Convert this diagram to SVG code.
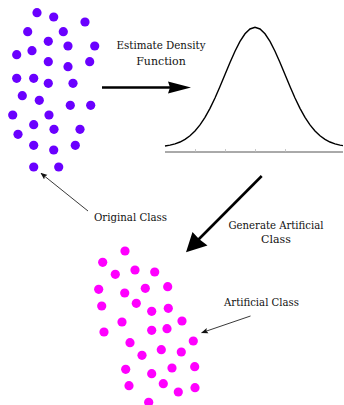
<svg xmlns="http://www.w3.org/2000/svg" width="344" height="405" viewBox="0 0 344 405">
<defs>
<style>
.p{fill:#6a00ff}
.m{fill:#ff00ff}
text{font-family:'DejaVu Serif','Liberation Serif',serif;font-size:11px;fill:#111}
.thin{stroke:#222;stroke-width:0.9;fill:none}
</style>
<marker id="sa" viewBox="0 0 10 10" refX="9" refY="5" markerWidth="7" markerHeight="7" markerUnits="userSpaceOnUse" orient="auto">
<path d="M0,1 L10,5 L0,9 L2,5 Z" fill="#111"/>
</marker>
</defs>
<rect width="344" height="405" fill="#fff"/>
<g id="original-class">
<circle class="p" cx="37" cy="12.7" r="4.6"/><circle class="p" cx="53.7" cy="17" r="4.6"/><circle class="p" cx="85" cy="22" r="4.6"/>
<circle class="p" cx="27.7" cy="31.7" r="4.6"/><circle class="p" cx="63.3" cy="31.7" r="4.6"/><circle class="p" cx="48.3" cy="41.3" r="4.6"/>
<circle class="p" cx="68" cy="46" r="4.6"/><circle class="p" cx="94.7" cy="46" r="4.6"/><circle class="p" cx="16.7" cy="54.7" r="4.6"/>
<circle class="p" cx="32" cy="50.7" r="4.6"/><circle class="p" cx="48.3" cy="61.7" r="4.6"/><circle class="p" cx="68" cy="66.7" r="4.6"/>
<circle class="p" cx="89.7" cy="61.7" r="4.6"/><circle class="p" cx="16.7" cy="78.3" r="4.6"/><circle class="p" cx="33.7" cy="78.3" r="4.6"/>
<circle class="p" cx="48.3" cy="83.3" r="4.6"/><circle class="p" cx="73" cy="83.3" r="4.6"/><circle class="p" cx="22.3" cy="95.7" r="4.6"/>
<circle class="p" cx="39.3" cy="100.3" r="4.6"/><circle class="p" cx="70.3" cy="105.3" r="4.6"/><circle class="p" cx="90.7" cy="105.3" r="4.6"/>
<circle class="p" cx="12.7" cy="115" r="4.6"/><circle class="p" cx="49" cy="115" r="4.6"/><circle class="p" cx="33.7" cy="124.7" r="4.6"/>
<circle class="p" cx="54" cy="129.3" r="4.6"/><circle class="p" cx="80" cy="129.3" r="4.6"/><circle class="p" cx="18" cy="134.3" r="4.6"/>
<circle class="p" cx="33.7" cy="145.3" r="4.6"/><circle class="p" cx="53.7" cy="150" r="4.6"/><circle class="p" cx="75.3" cy="145.3" r="4.6"/>
<circle class="p" cx="33.7" cy="167" r="4.6"/><circle class="p" cx="58.7" cy="167" r="4.6"/>
</g>
<g id="artificial-class">
<circle class="m" cx="125" cy="251" r="4.6"/><circle class="m" cx="102.7" cy="262.3" r="4.6"/><circle class="m" cx="115.3" cy="274.3" r="4.6"/>
<circle class="m" cx="135" cy="270" r="4.6"/><circle class="m" cx="154.7" cy="272" r="4.6"/><circle class="m" cx="98.7" cy="289.3" r="4.6"/>
<circle class="m" cx="124.7" cy="293" r="4.6"/><circle class="m" cx="145.3" cy="288.3" r="4.6"/><circle class="m" cx="167.7" cy="286.7" r="4.6"/>
<circle class="m" cx="101.7" cy="306" r="4.6"/><circle class="m" cx="136.3" cy="303.3" r="4.6"/><circle class="m" cx="151.7" cy="311.3" r="4.6"/>
<circle class="m" cx="168.3" cy="308.3" r="4.6"/><circle class="m" cx="122" cy="322" r="4.6"/><circle class="m" cx="182" cy="321" r="4.6"/>
<circle class="m" cx="104" cy="332" r="4.6"/><circle class="m" cx="151.7" cy="330.3" r="4.6"/><circle class="m" cx="167" cy="328.7" r="4.6"/>
<circle class="m" cx="193.3" cy="341" r="4.6"/><circle class="m" cx="130" cy="342.7" r="4.6"/><circle class="m" cx="161.3" cy="349.7" r="4.6"/>
<circle class="m" cx="181.3" cy="352" r="4.6"/><circle class="m" cx="142" cy="355.3" r="4.6"/><circle class="m" cx="125.7" cy="369.3" r="4.6"/>
<circle class="m" cx="151.7" cy="373.7" r="4.6"/><circle class="m" cx="172" cy="368" r="4.6"/><circle class="m" cx="194.7" cy="366.7" r="4.6"/>
<circle class="m" cx="129" cy="385.7" r="4.6"/><circle class="m" cx="163.3" cy="383.7" r="4.6"/><circle class="m" cx="178.3" cy="392" r="4.6"/>
<circle class="m" cx="195" cy="387.7" r="4.6"/><circle class="m" cx="148.7" cy="402.3" r="4.6"/>
</g>
<g id="density-function">
<line x1="165" y1="152" x2="343" y2="152" stroke="#555" stroke-width="1"/>
<g stroke="#bbb" stroke-width="0.8">
<line x1="195.5" y1="149" x2="195.5" y2="152"/><line x1="225.5" y1="149" x2="225.5" y2="152"/>
<line x1="255.5" y1="149" x2="255.5" y2="152"/><line x1="285.5" y1="149" x2="285.5" y2="152"/>
</g>
<polyline fill="none" stroke="#000" stroke-width="1.4" points="165,145.97 170,145.13 175,143.87 180,142.03 185,139.41 190,135.83 195,131.06 200,124.94 205,117.37 210,108.34 215,97.97 220,86.54 225,74.52 230,62.51 235,51.22 240,41.4 245,33.78 250,28.97 255,27.3 260,28.97 265,33.78 270,41.4 275,51.22 280,62.51 285,74.52 290,86.54 295,97.97 300,108.34 305,117.37 310,124.94 315,131.06 320,135.83 325,139.41 330,142.03 335,143.87 340,145.13 343,145.6"/>
</g>
<g id="connectors">
<line x1="102" y1="87.5" x2="170" y2="87.5" stroke="#000" stroke-width="2.6"/>
<path d="M168,81.5 L191,87.5 L168,93.5 L170,87.5 Z" fill="#000"/>
<line x1="261.7" y1="176" x2="198" y2="240" stroke="#000" stroke-width="2.6"/>
<path d="M192.5,232 L186,252.3 L207.5,245.5 L199,239 Z" fill="#000"/>
<line class="thin" x1="88" y1="211" x2="41" y2="173.3" marker-end="url(#sa)"/>
<line class="thin" x1="250.5" y1="316" x2="201.7" y2="332.7" marker-end="url(#sa)"/>
</g>
<g id="labels">
<text x="161" y="49" text-anchor="middle" textLength="89" lengthAdjust="spacingAndGlyphs">Estimate Density</text>
<text x="161" y="65" text-anchor="middle">Function</text>
<text x="94" y="221" textLength="73" lengthAdjust="spacingAndGlyphs">Original Class</text>
<text x="276" y="229" text-anchor="middle" textLength="95" lengthAdjust="spacingAndGlyphs">Generate Artificial</text>
<text x="276" y="243" text-anchor="middle">Class</text>
<text x="224" y="306" textLength="75" lengthAdjust="spacingAndGlyphs">Artificial Class</text>
</g>
</svg>
